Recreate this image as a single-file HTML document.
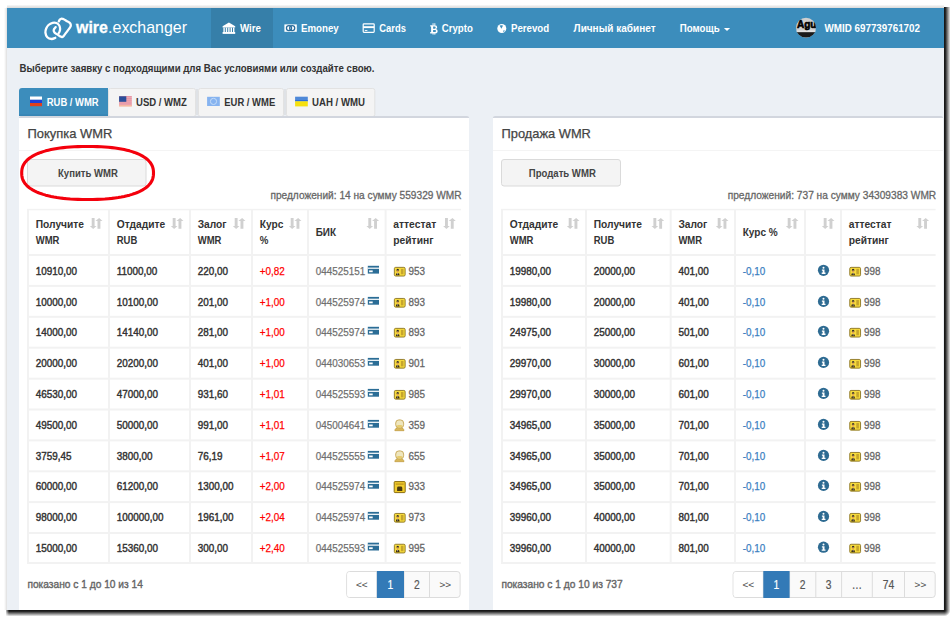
<!DOCTYPE html><html><head><meta charset="utf-8"><style>html,body{margin:0;padding:0;background:#fff;width:951px;height:617px;overflow:hidden}svg{display:block;font-family:"Liberation Sans",sans-serif}</style></head><body>
<svg width="951" height="617" viewBox="0 0 951 617">
<defs>
<linearGradient id="shR" x1="0" x2="1" y1="0" y2="0"><stop offset="0" stop-color="#111" stop-opacity="1"/><stop offset="0.35" stop-color="#222" stop-opacity=".85"/><stop offset="1" stop-color="#000" stop-opacity="0"/></linearGradient>
<linearGradient id="shB" x1="0" x2="0" y1="0" y2="1"><stop offset="0" stop-color="#111" stop-opacity="1"/><stop offset="0.35" stop-color="#222" stop-opacity=".85"/><stop offset="1" stop-color="#000" stop-opacity="0"/></linearGradient>
</defs>
<rect x="0" y="0" width="951" height="617" fill="#ffffff" />
<linearGradient id="gR" x1="0" x2="1" y1="0" y2="0"><stop offset="0" stop-color="#000" stop-opacity=".92"/><stop offset=".18" stop-color="#000" stop-opacity=".9"/><stop offset=".55" stop-color="#000" stop-opacity=".5"/><stop offset="1" stop-color="#000" stop-opacity="0"/></linearGradient>
<linearGradient id="gB" x1="0" x2="0" y1="0" y2="1"><stop offset="0" stop-color="#000" stop-opacity=".92"/><stop offset=".18" stop-color="#000" stop-opacity=".9"/><stop offset=".55" stop-color="#000" stop-opacity=".5"/><stop offset="1" stop-color="#000" stop-opacity="0"/></linearGradient>
<radialGradient id="gC" cx="944" cy="610" r="6.5" gradientUnits="userSpaceOnUse"><stop offset="0" stop-color="#000" stop-opacity=".92"/><stop offset=".18" stop-color="#000" stop-opacity=".9"/><stop offset=".55" stop-color="#000" stop-opacity=".5"/><stop offset="1" stop-color="#000" stop-opacity="0"/></radialGradient>
<linearGradient id="gL" x1="0" x2="1" y1="0" y2="0"><stop offset="0" stop-color="#fff" stop-opacity="1"/><stop offset="1" stop-color="#fff" stop-opacity="0"/></linearGradient>
<rect x="944" y="7" width="6.5" height="603" fill="url(#gR)" />
<rect x="6" y="610" width="938" height="6.5" fill="url(#gB)" />
<rect x="944" y="610" width="6.5" height="6.5" fill="url(#gC)" />
<rect x="5" y="609" width="4" height="8" fill="url(#gL)" />
<linearGradient id="gT" x1="0" x2="0" y1="0" y2="1"><stop offset="0" stop-color="#000" stop-opacity="0"/><stop offset="1" stop-color="#000" stop-opacity=".16"/></linearGradient>
<linearGradient id="gLf" x1="0" x2="1" y1="0" y2="0"><stop offset="0" stop-color="#000" stop-opacity="0"/><stop offset="1" stop-color="#000" stop-opacity=".12"/></linearGradient>
<rect x="7" y="4.5" width="937" height="3.5" fill="url(#gT)" />
<rect x="4" y="8" width="3" height="602" fill="url(#gLf)" />
<rect x="6.5" y="7.5" width="937.5" height="602.5" fill="#e2e2e2" />
<rect x="7" y="8" width="937" height="602" fill="#ecf0f5" />
<rect x="7" y="8" width="937" height="40" fill="#3c8dbc" />
<rect x="211" y="8" width="62" height="40" fill="#367fa9" />
<text x="76.05" y="32.50" font-size="17" font-weight="bold" fill="#fff" stroke="#fff" stroke-width="0.3" textLength="31.85" lengthAdjust="spacingAndGlyphs">wire</text>
<text x="108.10" y="32.50" font-size="17" fill="#fff" textLength="78.90" lengthAdjust="spacingAndGlyphs">.exchanger</text>
<text x="240.00" y="32.00" font-size="11.5" font-weight="bold" fill="#fff" textLength="21.00" lengthAdjust="spacingAndGlyphs">Wire</text>
<text x="301.00" y="32.00" font-size="11.5" font-weight="bold" fill="#fff" textLength="37.70" lengthAdjust="spacingAndGlyphs">Emoney</text>
<text x="379.30" y="32.00" font-size="11.5" font-weight="bold" fill="#fff" textLength="26.60" lengthAdjust="spacingAndGlyphs">Cards</text>
<text x="441.80" y="32.00" font-size="11.5" font-weight="bold" fill="#fff" textLength="31.00" lengthAdjust="spacingAndGlyphs">Crypto</text>
<text x="511.00" y="32.00" font-size="11.5" font-weight="bold" fill="#fff" textLength="38.10" lengthAdjust="spacingAndGlyphs">Perevod</text>
<text x="573.60" y="32.00" font-size="11.5" font-weight="bold" fill="#fff" textLength="82.00" lengthAdjust="spacingAndGlyphs">Личный кабинет</text>
<text x="679.80" y="32.00" font-size="11.5" font-weight="bold" fill="#fff" textLength="39.80" lengthAdjust="spacingAndGlyphs">Помощь</text>
<text x="824.60" y="32.00" font-size="11.5" font-weight="bold" fill="#fff" textLength="95.40" lengthAdjust="spacingAndGlyphs">WMID 697739761702</text>
<text x="19.50" y="72.20" font-size="11.2" font-weight="bold" fill="#333" textLength="355.00" lengthAdjust="spacingAndGlyphs">Выберите заявку с подходящими для Вас условиями или создайте свою.</text>
<path d="M19 91 a3 3 0 0 1 3 -3 H108 V116 H19 Z" fill="#3c8dbc"/>
<rect x="19" y="114.6" width="89" height="1" fill="#3580b0" />
<rect x="108.5" y="88.5" width="87.0" height="28" rx="2" fill="#f4f4f4" stroke="#e2e2e2" stroke-width="1"/>
<rect x="198.5" y="88.5" width="85.0" height="28" rx="2" fill="#f4f4f4" stroke="#e2e2e2" stroke-width="1"/>
<rect x="286.5" y="88.5" width="88.3" height="28" rx="2" fill="#f4f4f4" stroke="#e2e2e2" stroke-width="1"/>
<rect x="196" y="89" width="2" height="26" fill="#dfe2e6"/>
<rect x="284" y="89" width="2" height="26" fill="#dfe2e6"/>
<text x="46.80" y="105.70" font-size="11" font-weight="bold" fill="#fff" textLength="51.90" lengthAdjust="spacingAndGlyphs">RUB / WMR</text>
<text x="136.00" y="105.70" font-size="11" font-weight="bold" fill="#333" textLength="50.90" lengthAdjust="spacingAndGlyphs">USD / WMZ</text>
<text x="224.30" y="105.70" font-size="11" font-weight="bold" fill="#333" textLength="50.90" lengthAdjust="spacingAndGlyphs">EUR / WME</text>
<text x="312.00" y="105.70" font-size="11" font-weight="bold" fill="#333" textLength="53.00" lengthAdjust="spacingAndGlyphs">UAH / WMU</text>
<rect x="19" y="116" width="450" height="3" fill="#d2d6de" rx="2"/>
<rect x="19" y="118" width="450" height="492" fill="#ffffff" />
<rect x="19" y="150" width="450" height="1" fill="#f4f4f4" />
<text x="27.50" y="137.80" font-size="13" fill="#444" stroke="#444" stroke-width="0.25" textLength="84.80" lengthAdjust="spacingAndGlyphs">Покупка WMR</text>
<rect x="27.5" y="159.5" width="118.5" height="26.5" rx="2.5" fill="#f4f4f4" stroke="#dadada" stroke-width="1"/>
<text x="58.00" y="176.70" font-size="11.3" font-weight="bold" fill="#444" textLength="59.80" lengthAdjust="spacingAndGlyphs">Купить WMR</text>
<text x="270.40" y="199.00" font-size="11.3" fill="#666" stroke="#666" stroke-width="0.3" textLength="191.20" lengthAdjust="spacingAndGlyphs">предложений: 14 на сумму 559329 WMR</text>
<rect x="27" y="208.8" width="434" height="1.5" fill="#f2f2f2"/>
<rect x="27" y="254.00" width="434" height="2" fill="#f2f2f2"/>
<rect x="27" y="284.90" width="434" height="2" fill="#f2f2f2"/>
<rect x="27" y="315.80" width="434" height="2" fill="#f2f2f2"/>
<rect x="27" y="346.70" width="434" height="2" fill="#f2f2f2"/>
<rect x="27" y="377.70" width="434" height="2" fill="#f2f2f2"/>
<rect x="27" y="408.50" width="434" height="2" fill="#f2f2f2"/>
<rect x="27" y="439.40" width="434" height="2" fill="#f2f2f2"/>
<rect x="27" y="470.30" width="434" height="2" fill="#f2f2f2"/>
<rect x="27" y="501.10" width="434" height="2" fill="#f2f2f2"/>
<rect x="27" y="532.00" width="434" height="2" fill="#f2f2f2"/>
<rect x="27" y="562.00" width="434" height="2" fill="#f2f2f2"/>
<rect x="27.00" y="209" width="2" height="355.00" fill="#f2f2f2"/>
<rect x="108.00" y="209" width="2" height="355.00" fill="#f2f2f2"/>
<rect x="189.00" y="209" width="2" height="355.00" fill="#f2f2f2"/>
<rect x="251.00" y="209" width="2" height="355.00" fill="#f2f2f2"/>
<rect x="307.00" y="209" width="2" height="355.00" fill="#f2f2f2"/>
<rect x="384.60" y="209" width="2" height="355.00" fill="#f2f2f2"/>
<text x="35.70" y="227.80" font-size="11.3" font-weight="bold" fill="#333" textLength="48.34" lengthAdjust="spacingAndGlyphs">Получите</text>
<text x="35.70" y="244.00" font-size="11.3" font-weight="bold" fill="#333" textLength="23.72" lengthAdjust="spacingAndGlyphs">WMR</text>
<path d="M91.70 218 h2.9 v8.1 h1.9 l-3.35 3 l-3.35 -3 h1.9 z" fill="#d0d0d0"/>
<path d="M99.15 217.9 l3.35 3.1 h-2.1 v7.8 h-2.9 v-7.8 h-2.1 z" fill="#d0d0d0"/>
<text x="116.70" y="227.80" font-size="11.3" font-weight="bold" fill="#333" textLength="48.49" lengthAdjust="spacingAndGlyphs">Отдадите</text>
<text x="116.70" y="244.00" font-size="11.3" font-weight="bold" fill="#333" textLength="20.56" lengthAdjust="spacingAndGlyphs">RUB</text>
<path d="M172.70 218 h2.9 v8.1 h1.9 l-3.35 3 l-3.35 -3 h1.9 z" fill="#d0d0d0"/>
<path d="M180.15 217.9 l3.35 3.1 h-2.1 v7.8 h-2.9 v-7.8 h-2.1 z" fill="#d0d0d0"/>
<text x="197.70" y="227.80" font-size="11.3" font-weight="bold" fill="#333" textLength="28.91" lengthAdjust="spacingAndGlyphs">Залог</text>
<text x="197.70" y="244.00" font-size="11.3" font-weight="bold" fill="#333" textLength="23.72" lengthAdjust="spacingAndGlyphs">WMR</text>
<path d="M234.70 218 h2.9 v8.1 h1.9 l-3.35 3 l-3.35 -3 h1.9 z" fill="#d0d0d0"/>
<path d="M242.15 217.9 l3.35 3.1 h-2.1 v7.8 h-2.9 v-7.8 h-2.1 z" fill="#d0d0d0"/>
<text x="259.70" y="227.80" font-size="11.3" font-weight="bold" fill="#333" textLength="23.65" lengthAdjust="spacingAndGlyphs">Курс</text>
<text x="259.70" y="244.00" font-size="11.3" font-weight="bold" fill="#333" textLength="8.64" lengthAdjust="spacingAndGlyphs">%</text>
<path d="M290.70 218 h2.9 v8.1 h1.9 l-3.35 3 l-3.35 -3 h1.9 z" fill="#d0d0d0"/>
<path d="M298.15 217.9 l3.35 3.1 h-2.1 v7.8 h-2.9 v-7.8 h-2.1 z" fill="#d0d0d0"/>
<text x="315.70" y="235.90" font-size="11.3" font-weight="bold" fill="#333" textLength="20.36" lengthAdjust="spacingAndGlyphs">БИК</text>
<path d="M368.30 218 h2.9 v8.1 h1.9 l-3.35 3 l-3.35 -3 h1.9 z" fill="#d0d0d0"/>
<path d="M375.75 217.9 l3.35 3.1 h-2.1 v7.8 h-2.9 v-7.8 h-2.1 z" fill="#d0d0d0"/>
<text x="393.30" y="227.80" font-size="11.3" font-weight="bold" fill="#333" textLength="42.88" lengthAdjust="spacingAndGlyphs">аттестат</text>
<text x="393.30" y="244.00" font-size="11.3" font-weight="bold" fill="#333" textLength="40.17" lengthAdjust="spacingAndGlyphs">рейтинг</text>
<path d="M445.00 218 h2.9 v8.1 h1.9 l-3.35 3 l-3.35 -3 h1.9 z" fill="#d0d0d0"/>
<path d="M452.45 217.9 l3.35 3.1 h-2.1 v7.8 h-2.9 v-7.8 h-2.1 z" fill="#d0d0d0"/>
<text x="35.80" y="274.80" font-size="11.5" fill="#333" stroke="#333" stroke-width="0.45" textLength="41.25" lengthAdjust="spacingAndGlyphs">10910,00</text>
<text x="116.80" y="274.80" font-size="11.5" fill="#333" stroke="#333" stroke-width="0.45" textLength="40.52" lengthAdjust="spacingAndGlyphs">11000,00</text>
<text x="197.80" y="274.80" font-size="11.5" fill="#333" stroke="#333" stroke-width="0.45" textLength="30.25" lengthAdjust="spacingAndGlyphs">220,00</text>
<text x="259.80" y="274.80" font-size="11.5" fill="#ff0000" stroke="#ff0000" stroke-width="0.25" textLength="25.02" lengthAdjust="spacingAndGlyphs">+0,82</text>
<text x="315.80" y="274.80" font-size="11.5" fill="#6f6f6f" stroke="#6f6f6f" stroke-width="0.25" textLength="49.50" lengthAdjust="spacingAndGlyphs">044525151</text>
<rect x="367.8" y="265.8" width="11.2" height="7.8" fill="#2b6d96"/>
<rect x="367.8" y="267.6" width="11.2" height="1.2" fill="#fff"/>
<rect x="369.1" y="270.4" width="3.6" height="1.8" fill="#fff"/>
<rect x="394.35" y="267.35" width="10.8" height="8.7" rx="1.3" fill="#f6da3c" stroke="#8a7424" stroke-width="0.9"/>
<path d="M395.80 275.30 q0 -2.4 1.9 -2.4 q1.9 0 1.9 2.4 z" fill="#3a2c10"/>
<path d="M397.20 273.30 h1 l-0.5 1.6 z" fill="#fff"/>
<ellipse cx="397.70" cy="271.20" rx="1.1" ry="1.4" fill="#e0a050"/>
<path d="M396.40 270.70 q0 -1.9 1.3 -1.9 q1.4 0 1.4 1.9 q-1.3 -0.8 -2.7 0 z" fill="#2a2a2a"/>
<rect x="400.90" y="268.90" width="2.6" height="5.4" fill="#c6a52c"/>
<text x="408.50" y="274.80" font-size="11.5" fill="#666" stroke="#666" stroke-width="0.3" textLength="16.50" lengthAdjust="spacingAndGlyphs">953</text>
<text x="35.80" y="305.90" font-size="11.5" fill="#333" stroke="#333" stroke-width="0.45" textLength="41.25" lengthAdjust="spacingAndGlyphs">10000,00</text>
<text x="116.80" y="305.90" font-size="11.5" fill="#333" stroke="#333" stroke-width="0.45" textLength="41.25" lengthAdjust="spacingAndGlyphs">10100,00</text>
<text x="197.80" y="305.90" font-size="11.5" fill="#333" stroke="#333" stroke-width="0.45" textLength="30.25" lengthAdjust="spacingAndGlyphs">201,00</text>
<text x="259.80" y="305.90" font-size="11.5" fill="#ff0000" stroke="#ff0000" stroke-width="0.25" textLength="25.02" lengthAdjust="spacingAndGlyphs">+1,00</text>
<text x="315.80" y="305.90" font-size="11.5" fill="#6f6f6f" stroke="#6f6f6f" stroke-width="0.25" textLength="49.50" lengthAdjust="spacingAndGlyphs">044525974</text>
<rect x="367.8" y="296.9" width="11.2" height="7.8" fill="#2b6d96"/>
<rect x="367.8" y="298.7" width="11.2" height="1.2" fill="#fff"/>
<rect x="369.1" y="301.5" width="3.6" height="1.8" fill="#fff"/>
<rect x="394.35" y="298.45" width="10.8" height="8.7" rx="1.3" fill="#f6da3c" stroke="#8a7424" stroke-width="0.9"/>
<path d="M395.80 306.40 q0 -2.4 1.9 -2.4 q1.9 0 1.9 2.4 z" fill="#3a2c10"/>
<path d="M397.20 304.40 h1 l-0.5 1.6 z" fill="#fff"/>
<ellipse cx="397.70" cy="302.30" rx="1.1" ry="1.4" fill="#e0a050"/>
<path d="M396.40 301.80 q0 -1.9 1.3 -1.9 q1.4 0 1.4 1.9 q-1.3 -0.8 -2.7 0 z" fill="#2a2a2a"/>
<rect x="400.90" y="300.00" width="2.6" height="5.4" fill="#c6a52c"/>
<text x="408.50" y="305.90" font-size="11.5" fill="#666" stroke="#666" stroke-width="0.3" textLength="16.50" lengthAdjust="spacingAndGlyphs">893</text>
<text x="35.80" y="335.80" font-size="11.5" fill="#333" stroke="#333" stroke-width="0.45" textLength="41.25" lengthAdjust="spacingAndGlyphs">14000,00</text>
<text x="116.80" y="335.80" font-size="11.5" fill="#333" stroke="#333" stroke-width="0.45" textLength="41.25" lengthAdjust="spacingAndGlyphs">14140,00</text>
<text x="197.80" y="335.80" font-size="11.5" fill="#333" stroke="#333" stroke-width="0.45" textLength="30.25" lengthAdjust="spacingAndGlyphs">281,00</text>
<text x="259.80" y="335.80" font-size="11.5" fill="#ff0000" stroke="#ff0000" stroke-width="0.25" textLength="25.02" lengthAdjust="spacingAndGlyphs">+1,00</text>
<text x="315.80" y="335.80" font-size="11.5" fill="#6f6f6f" stroke="#6f6f6f" stroke-width="0.25" textLength="49.50" lengthAdjust="spacingAndGlyphs">044525974</text>
<rect x="367.8" y="326.8" width="11.2" height="7.8" fill="#2b6d96"/>
<rect x="367.8" y="328.6" width="11.2" height="1.2" fill="#fff"/>
<rect x="369.1" y="331.4" width="3.6" height="1.8" fill="#fff"/>
<rect x="394.35" y="328.35" width="10.8" height="8.7" rx="1.3" fill="#f6da3c" stroke="#8a7424" stroke-width="0.9"/>
<path d="M395.80 336.30 q0 -2.4 1.9 -2.4 q1.9 0 1.9 2.4 z" fill="#3a2c10"/>
<path d="M397.20 334.30 h1 l-0.5 1.6 z" fill="#fff"/>
<ellipse cx="397.70" cy="332.20" rx="1.1" ry="1.4" fill="#e0a050"/>
<path d="M396.40 331.70 q0 -1.9 1.3 -1.9 q1.4 0 1.4 1.9 q-1.3 -0.8 -2.7 0 z" fill="#2a2a2a"/>
<rect x="400.90" y="329.90" width="2.6" height="5.4" fill="#c6a52c"/>
<text x="408.50" y="335.80" font-size="11.5" fill="#666" stroke="#666" stroke-width="0.3" textLength="16.50" lengthAdjust="spacingAndGlyphs">893</text>
<text x="35.80" y="366.90" font-size="11.5" fill="#333" stroke="#333" stroke-width="0.45" textLength="41.25" lengthAdjust="spacingAndGlyphs">20000,00</text>
<text x="116.80" y="366.90" font-size="11.5" fill="#333" stroke="#333" stroke-width="0.45" textLength="41.25" lengthAdjust="spacingAndGlyphs">20200,00</text>
<text x="197.80" y="366.90" font-size="11.5" fill="#333" stroke="#333" stroke-width="0.45" textLength="30.25" lengthAdjust="spacingAndGlyphs">401,00</text>
<text x="259.80" y="366.90" font-size="11.5" fill="#ff0000" stroke="#ff0000" stroke-width="0.25" textLength="25.02" lengthAdjust="spacingAndGlyphs">+1,00</text>
<text x="315.80" y="366.90" font-size="11.5" fill="#6f6f6f" stroke="#6f6f6f" stroke-width="0.25" textLength="49.50" lengthAdjust="spacingAndGlyphs">044030653</text>
<rect x="367.8" y="357.9" width="11.2" height="7.8" fill="#2b6d96"/>
<rect x="367.8" y="359.7" width="11.2" height="1.2" fill="#fff"/>
<rect x="369.1" y="362.5" width="3.6" height="1.8" fill="#fff"/>
<rect x="394.35" y="359.45" width="10.8" height="8.7" rx="1.3" fill="#f6da3c" stroke="#8a7424" stroke-width="0.9"/>
<path d="M395.80 367.40 q0 -2.4 1.9 -2.4 q1.9 0 1.9 2.4 z" fill="#3a2c10"/>
<path d="M397.20 365.40 h1 l-0.5 1.6 z" fill="#fff"/>
<ellipse cx="397.70" cy="363.30" rx="1.1" ry="1.4" fill="#e0a050"/>
<path d="M396.40 362.80 q0 -1.9 1.3 -1.9 q1.4 0 1.4 1.9 q-1.3 -0.8 -2.7 0 z" fill="#2a2a2a"/>
<rect x="400.90" y="361.00" width="2.6" height="5.4" fill="#c6a52c"/>
<text x="408.50" y="366.90" font-size="11.5" fill="#666" stroke="#666" stroke-width="0.3" textLength="16.50" lengthAdjust="spacingAndGlyphs">901</text>
<text x="35.80" y="397.90" font-size="11.5" fill="#333" stroke="#333" stroke-width="0.45" textLength="41.25" lengthAdjust="spacingAndGlyphs">46530,00</text>
<text x="116.80" y="397.90" font-size="11.5" fill="#333" stroke="#333" stroke-width="0.45" textLength="41.25" lengthAdjust="spacingAndGlyphs">47000,00</text>
<text x="197.80" y="397.90" font-size="11.5" fill="#333" stroke="#333" stroke-width="0.45" textLength="30.25" lengthAdjust="spacingAndGlyphs">931,60</text>
<text x="259.80" y="397.90" font-size="11.5" fill="#ff0000" stroke="#ff0000" stroke-width="0.25" textLength="25.02" lengthAdjust="spacingAndGlyphs">+1,01</text>
<text x="315.80" y="397.90" font-size="11.5" fill="#6f6f6f" stroke="#6f6f6f" stroke-width="0.25" textLength="49.50" lengthAdjust="spacingAndGlyphs">044525593</text>
<rect x="367.8" y="388.9" width="11.2" height="7.8" fill="#2b6d96"/>
<rect x="367.8" y="390.7" width="11.2" height="1.2" fill="#fff"/>
<rect x="369.1" y="393.5" width="3.6" height="1.8" fill="#fff"/>
<rect x="394.35" y="390.45" width="10.8" height="8.7" rx="1.3" fill="#f6da3c" stroke="#8a7424" stroke-width="0.9"/>
<path d="M395.80 398.40 q0 -2.4 1.9 -2.4 q1.9 0 1.9 2.4 z" fill="#3a2c10"/>
<path d="M397.20 396.40 h1 l-0.5 1.6 z" fill="#fff"/>
<ellipse cx="397.70" cy="394.30" rx="1.1" ry="1.4" fill="#e0a050"/>
<path d="M396.40 393.80 q0 -1.9 1.3 -1.9 q1.4 0 1.4 1.9 q-1.3 -0.8 -2.7 0 z" fill="#2a2a2a"/>
<rect x="400.90" y="392.00" width="2.6" height="5.4" fill="#c6a52c"/>
<text x="408.50" y="397.90" font-size="11.5" fill="#666" stroke="#666" stroke-width="0.3" textLength="16.50" lengthAdjust="spacingAndGlyphs">985</text>
<text x="35.80" y="428.90" font-size="11.5" fill="#333" stroke="#333" stroke-width="0.45" textLength="41.25" lengthAdjust="spacingAndGlyphs">49500,00</text>
<text x="116.80" y="428.90" font-size="11.5" fill="#333" stroke="#333" stroke-width="0.45" textLength="41.25" lengthAdjust="spacingAndGlyphs">50000,00</text>
<text x="197.80" y="428.90" font-size="11.5" fill="#333" stroke="#333" stroke-width="0.45" textLength="30.25" lengthAdjust="spacingAndGlyphs">991,00</text>
<text x="259.80" y="428.90" font-size="11.5" fill="#ff0000" stroke="#ff0000" stroke-width="0.25" textLength="25.02" lengthAdjust="spacingAndGlyphs">+1,01</text>
<text x="315.80" y="428.90" font-size="11.5" fill="#6f6f6f" stroke="#6f6f6f" stroke-width="0.25" textLength="49.50" lengthAdjust="spacingAndGlyphs">045004641</text>
<rect x="367.8" y="419.9" width="11.2" height="7.8" fill="#2b6d96"/>
<rect x="367.8" y="421.7" width="11.2" height="1.2" fill="#fff"/>
<rect x="369.1" y="424.5" width="3.6" height="1.8" fill="#fff"/>
<path d="M394.80 430.70 q0.2 -3.2 4.6 -3.4 q4.4 0.2 4.6 3.4 z" fill="#d9b85a" stroke="#b89030" stroke-width="0.6"/>
<rect x="395.70" y="419.90" width="7.9" height="8.0" rx="3.2" fill="#efe6bd" stroke="#c4a450" stroke-width="0.9"/>
<rect x="397.00" y="424.90" width="5.2" height="2.6" rx="1.2" fill="#e6cc70"/>
<text x="408.50" y="428.90" font-size="11.5" fill="#666" stroke="#666" stroke-width="0.3" textLength="16.50" lengthAdjust="spacingAndGlyphs">359</text>
<text x="35.80" y="459.90" font-size="11.5" fill="#333" stroke="#333" stroke-width="0.45" textLength="35.75" lengthAdjust="spacingAndGlyphs">3759,45</text>
<text x="116.80" y="459.90" font-size="11.5" fill="#333" stroke="#333" stroke-width="0.45" textLength="35.75" lengthAdjust="spacingAndGlyphs">3800,00</text>
<text x="197.80" y="459.90" font-size="11.5" fill="#333" stroke="#333" stroke-width="0.45" textLength="24.75" lengthAdjust="spacingAndGlyphs">76,19</text>
<text x="259.80" y="459.90" font-size="11.5" fill="#ff0000" stroke="#ff0000" stroke-width="0.25" textLength="25.02" lengthAdjust="spacingAndGlyphs">+1,07</text>
<text x="315.80" y="459.90" font-size="11.5" fill="#6f6f6f" stroke="#6f6f6f" stroke-width="0.25" textLength="49.50" lengthAdjust="spacingAndGlyphs">044525555</text>
<rect x="367.8" y="450.9" width="11.2" height="7.8" fill="#2b6d96"/>
<rect x="367.8" y="452.7" width="11.2" height="1.2" fill="#fff"/>
<rect x="369.1" y="455.5" width="3.6" height="1.8" fill="#fff"/>
<path d="M394.80 461.70 q0.2 -3.2 4.6 -3.4 q4.4 0.2 4.6 3.4 z" fill="#d9b85a" stroke="#b89030" stroke-width="0.6"/>
<rect x="395.70" y="450.90" width="7.9" height="8.0" rx="3.2" fill="#efe6bd" stroke="#c4a450" stroke-width="0.9"/>
<rect x="397.00" y="455.90" width="5.2" height="2.6" rx="1.2" fill="#e6cc70"/>
<text x="408.50" y="459.90" font-size="11.5" fill="#666" stroke="#666" stroke-width="0.3" textLength="16.50" lengthAdjust="spacingAndGlyphs">655</text>
<text x="35.80" y="489.90" font-size="11.5" fill="#333" stroke="#333" stroke-width="0.45" textLength="41.25" lengthAdjust="spacingAndGlyphs">60000,00</text>
<text x="116.80" y="489.90" font-size="11.5" fill="#333" stroke="#333" stroke-width="0.45" textLength="41.25" lengthAdjust="spacingAndGlyphs">61200,00</text>
<text x="197.80" y="489.90" font-size="11.5" fill="#333" stroke="#333" stroke-width="0.45" textLength="35.75" lengthAdjust="spacingAndGlyphs">1300,00</text>
<text x="259.80" y="489.90" font-size="11.5" fill="#ff0000" stroke="#ff0000" stroke-width="0.25" textLength="25.02" lengthAdjust="spacingAndGlyphs">+2,00</text>
<text x="315.80" y="489.90" font-size="11.5" fill="#6f6f6f" stroke="#6f6f6f" stroke-width="0.25" textLength="49.50" lengthAdjust="spacingAndGlyphs">044525974</text>
<rect x="367.8" y="480.9" width="11.2" height="7.8" fill="#2b6d96"/>
<rect x="367.8" y="482.7" width="11.2" height="1.2" fill="#fff"/>
<rect x="369.1" y="485.5" width="3.6" height="1.8" fill="#fff"/>
<rect x="394.20" y="481.60" width="11" height="11" rx="0.8" fill="#f1cc2c" stroke="#8a6d10" stroke-width="1"/>
<rect x="395.70" y="483.30" width="8" height="1.6" fill="#c9a020"/>
<path d="M397.10 490.90 v-3 q0 -1.4 1.4 -1.4 h2.4 q1.4 0 1.4 1.4 v3 z" fill="#4a3a10"/>
<text x="408.50" y="489.90" font-size="11.5" fill="#666" stroke="#666" stroke-width="0.3" textLength="16.50" lengthAdjust="spacingAndGlyphs">933</text>
<text x="35.80" y="520.90" font-size="11.5" fill="#333" stroke="#333" stroke-width="0.45" textLength="41.25" lengthAdjust="spacingAndGlyphs">98000,00</text>
<text x="116.80" y="520.90" font-size="11.5" fill="#333" stroke="#333" stroke-width="0.45" textLength="46.75" lengthAdjust="spacingAndGlyphs">100000,00</text>
<text x="197.80" y="520.90" font-size="11.5" fill="#333" stroke="#333" stroke-width="0.45" textLength="35.75" lengthAdjust="spacingAndGlyphs">1961,00</text>
<text x="259.80" y="520.90" font-size="11.5" fill="#ff0000" stroke="#ff0000" stroke-width="0.25" textLength="25.02" lengthAdjust="spacingAndGlyphs">+2,04</text>
<text x="315.80" y="520.90" font-size="11.5" fill="#6f6f6f" stroke="#6f6f6f" stroke-width="0.25" textLength="49.50" lengthAdjust="spacingAndGlyphs">044525974</text>
<rect x="367.8" y="511.9" width="11.2" height="7.8" fill="#2b6d96"/>
<rect x="367.8" y="513.7" width="11.2" height="1.2" fill="#fff"/>
<rect x="369.1" y="516.5" width="3.6" height="1.8" fill="#fff"/>
<rect x="394.35" y="513.45" width="10.8" height="8.7" rx="1.3" fill="#f6da3c" stroke="#8a7424" stroke-width="0.9"/>
<path d="M395.80 521.40 q0 -2.4 1.9 -2.4 q1.9 0 1.9 2.4 z" fill="#3a2c10"/>
<path d="M397.20 519.40 h1 l-0.5 1.6 z" fill="#fff"/>
<ellipse cx="397.70" cy="517.30" rx="1.1" ry="1.4" fill="#e0a050"/>
<path d="M396.40 516.80 q0 -1.9 1.3 -1.9 q1.4 0 1.4 1.9 q-1.3 -0.8 -2.7 0 z" fill="#2a2a2a"/>
<rect x="400.90" y="515.00" width="2.6" height="5.4" fill="#c6a52c"/>
<text x="408.50" y="520.90" font-size="11.5" fill="#666" stroke="#666" stroke-width="0.3" textLength="16.50" lengthAdjust="spacingAndGlyphs">973</text>
<text x="35.80" y="551.70" font-size="11.5" fill="#333" stroke="#333" stroke-width="0.45" textLength="41.25" lengthAdjust="spacingAndGlyphs">15000,00</text>
<text x="116.80" y="551.70" font-size="11.5" fill="#333" stroke="#333" stroke-width="0.45" textLength="41.25" lengthAdjust="spacingAndGlyphs">15360,00</text>
<text x="197.80" y="551.70" font-size="11.5" fill="#333" stroke="#333" stroke-width="0.45" textLength="30.25" lengthAdjust="spacingAndGlyphs">300,00</text>
<text x="259.80" y="551.70" font-size="11.5" fill="#ff0000" stroke="#ff0000" stroke-width="0.25" textLength="25.02" lengthAdjust="spacingAndGlyphs">+2,40</text>
<text x="315.80" y="551.70" font-size="11.5" fill="#6f6f6f" stroke="#6f6f6f" stroke-width="0.25" textLength="49.50" lengthAdjust="spacingAndGlyphs">044525593</text>
<rect x="367.8" y="542.7" width="11.2" height="7.8" fill="#2b6d96"/>
<rect x="367.8" y="544.5" width="11.2" height="1.2" fill="#fff"/>
<rect x="369.1" y="547.3" width="3.6" height="1.8" fill="#fff"/>
<rect x="394.35" y="544.25" width="10.8" height="8.7" rx="1.3" fill="#f6da3c" stroke="#8a7424" stroke-width="0.9"/>
<path d="M395.80 552.20 q0 -2.4 1.9 -2.4 q1.9 0 1.9 2.4 z" fill="#3a2c10"/>
<path d="M397.20 550.20 h1 l-0.5 1.6 z" fill="#fff"/>
<ellipse cx="397.70" cy="548.10" rx="1.1" ry="1.4" fill="#e0a050"/>
<path d="M396.40 547.60 q0 -1.9 1.3 -1.9 q1.4 0 1.4 1.9 q-1.3 -0.8 -2.7 0 z" fill="#2a2a2a"/>
<rect x="400.90" y="545.80" width="2.6" height="5.4" fill="#c6a52c"/>
<text x="408.50" y="551.70" font-size="11.5" fill="#666" stroke="#666" stroke-width="0.3" textLength="16.50" lengthAdjust="spacingAndGlyphs">995</text>
<rect x="346.7" y="571.5" width="113.40000000000003" height="26" rx="3" fill="#fafafa" stroke="#dcdcdc" stroke-width="1"/>
<path d="M376.9 572 H349.7 a2.5 2.5 0 0 0 -2.5 2.5 V594.5 a2.5 2.5 0 0 0 2.5 2.5 H376.9 z" fill="#ffffff"/>
<rect x="376.40" y="571" width="1" height="27" fill="#dcdcdc"/>
<rect x="403.50" y="571" width="1" height="27" fill="#dcdcdc"/>
<rect x="429.00" y="571" width="1" height="27" fill="#dcdcdc"/>
<rect x="376.90" y="571" width="27.10" height="27" fill="#337ab7"/>
<text x="356.05" y="588.20" font-size="9.5" fill="#555" stroke="#555" stroke-width="0.1" textLength="11.60" lengthAdjust="spacingAndGlyphs">&lt;&lt;</text>
<text x="387.58" y="588.50" font-size="12" fill="#fff" stroke="#fff" stroke-width="0.2" textLength="5.74" lengthAdjust="spacingAndGlyphs">1</text>
<text x="413.88" y="588.50" font-size="12" fill="#555" stroke="#555" stroke-width="0.2" textLength="5.74" lengthAdjust="spacingAndGlyphs">2</text>
<text x="439.55" y="588.20" font-size="9.5" fill="#555" stroke="#555" stroke-width="0.1" textLength="11.60" lengthAdjust="spacingAndGlyphs">&gt;&gt;</text>
<text x="27.40" y="588.20" font-size="11.5" fill="#666" stroke="#666" stroke-width="0.4" textLength="115.50" lengthAdjust="spacingAndGlyphs">показано с 1 до 10 из 14</text>
<rect x="493" y="116" width="450" height="3" fill="#d2d6de" rx="2"/>
<rect x="493" y="118" width="450" height="492" fill="#ffffff" />
<rect x="493" y="150" width="450" height="1" fill="#f4f4f4" />
<text x="501.50" y="137.80" font-size="13" fill="#444" stroke="#444" stroke-width="0.25" textLength="89.40" lengthAdjust="spacingAndGlyphs">Продажа WMR</text>
<rect x="501.5" y="159.5" width="119" height="26.5" rx="2.5" fill="#f4f4f4" stroke="#dadada" stroke-width="1"/>
<text x="528.80" y="176.70" font-size="11.3" font-weight="bold" fill="#444" textLength="67.00" lengthAdjust="spacingAndGlyphs">Продать WMR</text>
<text x="727.70" y="199.00" font-size="11.3" fill="#666" stroke="#666" stroke-width="0.3" textLength="208.50" lengthAdjust="spacingAndGlyphs">предложений: 737 на сумму 34309383 WMR</text>
<rect x="501" y="208.8" width="434.6" height="1.5" fill="#f2f2f2"/>
<rect x="501" y="254.00" width="434.6" height="2" fill="#f2f2f2"/>
<rect x="501" y="284.90" width="434.6" height="2" fill="#f2f2f2"/>
<rect x="501" y="315.80" width="434.6" height="2" fill="#f2f2f2"/>
<rect x="501" y="346.70" width="434.6" height="2" fill="#f2f2f2"/>
<rect x="501" y="377.70" width="434.6" height="2" fill="#f2f2f2"/>
<rect x="501" y="408.50" width="434.6" height="2" fill="#f2f2f2"/>
<rect x="501" y="439.40" width="434.6" height="2" fill="#f2f2f2"/>
<rect x="501" y="470.30" width="434.6" height="2" fill="#f2f2f2"/>
<rect x="501" y="501.10" width="434.6" height="2" fill="#f2f2f2"/>
<rect x="501" y="532.00" width="434.6" height="2" fill="#f2f2f2"/>
<rect x="501" y="562.00" width="434.6" height="2" fill="#f2f2f2"/>
<rect x="501.00" y="209" width="2" height="355.00" fill="#f2f2f2"/>
<rect x="585.00" y="209" width="2" height="355.00" fill="#f2f2f2"/>
<rect x="669.70" y="209" width="2" height="355.00" fill="#f2f2f2"/>
<rect x="734.00" y="209" width="2" height="355.00" fill="#f2f2f2"/>
<rect x="804.00" y="209" width="2" height="355.00" fill="#f2f2f2"/>
<rect x="840.00" y="209" width="2" height="355.00" fill="#f2f2f2"/>
<text x="509.70" y="227.80" font-size="11.3" font-weight="bold" fill="#333" textLength="48.49" lengthAdjust="spacingAndGlyphs">Отдадите</text>
<text x="509.70" y="244.00" font-size="11.3" font-weight="bold" fill="#333" textLength="23.72" lengthAdjust="spacingAndGlyphs">WMR</text>
<path d="M568.70 218 h2.9 v8.1 h1.9 l-3.35 3 l-3.35 -3 h1.9 z" fill="#d0d0d0"/>
<path d="M576.15 217.9 l3.35 3.1 h-2.1 v7.8 h-2.9 v-7.8 h-2.1 z" fill="#d0d0d0"/>
<text x="593.70" y="227.80" font-size="11.3" font-weight="bold" fill="#333" textLength="48.34" lengthAdjust="spacingAndGlyphs">Получите</text>
<text x="593.70" y="244.00" font-size="11.3" font-weight="bold" fill="#333" textLength="20.56" lengthAdjust="spacingAndGlyphs">RUB</text>
<path d="M653.40 218 h2.9 v8.1 h1.9 l-3.35 3 l-3.35 -3 h1.9 z" fill="#d0d0d0"/>
<path d="M660.85 217.9 l3.35 3.1 h-2.1 v7.8 h-2.9 v-7.8 h-2.1 z" fill="#d0d0d0"/>
<text x="678.40" y="227.80" font-size="11.3" font-weight="bold" fill="#333" textLength="28.91" lengthAdjust="spacingAndGlyphs">Залог</text>
<text x="678.40" y="244.00" font-size="11.3" font-weight="bold" fill="#333" textLength="23.72" lengthAdjust="spacingAndGlyphs">WMR</text>
<path d="M717.70 218 h2.9 v8.1 h1.9 l-3.35 3 l-3.35 -3 h1.9 z" fill="#d0d0d0"/>
<path d="M725.15 217.9 l3.35 3.1 h-2.1 v7.8 h-2.9 v-7.8 h-2.1 z" fill="#d0d0d0"/>
<text x="742.70" y="235.90" font-size="11.3" font-weight="bold" fill="#333" textLength="35.00" lengthAdjust="spacingAndGlyphs">Курс %</text>
<path d="M787.70 218 h2.9 v8.1 h1.9 l-3.35 3 l-3.35 -3 h1.9 z" fill="#d0d0d0"/>
<path d="M795.15 217.9 l3.35 3.1 h-2.1 v7.8 h-2.9 v-7.8 h-2.1 z" fill="#d0d0d0"/>
<path d="M823.70 218 h2.9 v8.1 h1.9 l-3.35 3 l-3.35 -3 h1.9 z" fill="#d0d0d0"/>
<path d="M831.15 217.9 l3.35 3.1 h-2.1 v7.8 h-2.9 v-7.8 h-2.1 z" fill="#d0d0d0"/>
<text x="848.70" y="227.80" font-size="11.3" font-weight="bold" fill="#333" textLength="42.88" lengthAdjust="spacingAndGlyphs">аттестат</text>
<text x="848.70" y="244.00" font-size="11.3" font-weight="bold" fill="#333" textLength="40.17" lengthAdjust="spacingAndGlyphs">рейтинг</text>
<path d="M918.30 218 h2.9 v8.1 h1.9 l-3.35 3 l-3.35 -3 h1.9 z" fill="#d0d0d0"/>
<path d="M925.75 217.9 l3.35 3.1 h-2.1 v7.8 h-2.9 v-7.8 h-2.1 z" fill="#d0d0d0"/>
<text x="509.80" y="274.80" font-size="11.5" fill="#333" stroke="#333" stroke-width="0.45" textLength="41.25" lengthAdjust="spacingAndGlyphs">19980,00</text>
<text x="593.80" y="274.80" font-size="11.5" fill="#333" stroke="#333" stroke-width="0.45" textLength="41.25" lengthAdjust="spacingAndGlyphs">20000,00</text>
<text x="678.50" y="274.80" font-size="11.5" fill="#333" stroke="#333" stroke-width="0.45" textLength="30.25" lengthAdjust="spacingAndGlyphs">401,00</text>
<text x="742.80" y="274.80" font-size="11.5" fill="#3a7ebf" stroke="#3a7ebf" stroke-width="0.25" textLength="22.54" lengthAdjust="spacingAndGlyphs">-0,10</text>
<circle cx="823.5" cy="270.3" r="5.6" fill="#2e6b92"/>
<circle cx="823.5" cy="267.7" r="1" fill="#fff"/>
<path d="M821.9 269.4 h2.6 v3.2 h1 v1.3 h-3.8 v-1.3 h1 v-1.9 h-0.8 z" fill="#fff"/>
<rect x="849.75" y="267.35" width="10.8" height="8.7" rx="1.3" fill="#f6da3c" stroke="#8a7424" stroke-width="0.9"/>
<path d="M851.20 275.30 q0 -2.4 1.9 -2.4 q1.9 0 1.9 2.4 z" fill="#3a2c10"/>
<path d="M852.60 273.30 h1 l-0.5 1.6 z" fill="#fff"/>
<ellipse cx="853.10" cy="271.20" rx="1.1" ry="1.4" fill="#e0a050"/>
<path d="M851.80 270.70 q0 -1.9 1.3 -1.9 q1.4 0 1.4 1.9 q-1.3 -0.8 -2.7 0 z" fill="#2a2a2a"/>
<rect x="856.30" y="268.90" width="2.6" height="5.4" fill="#c6a52c"/>
<text x="863.90" y="274.80" font-size="11.5" fill="#666" stroke="#666" stroke-width="0.3" textLength="16.50" lengthAdjust="spacingAndGlyphs">998</text>
<text x="509.80" y="305.90" font-size="11.5" fill="#333" stroke="#333" stroke-width="0.45" textLength="41.25" lengthAdjust="spacingAndGlyphs">19980,00</text>
<text x="593.80" y="305.90" font-size="11.5" fill="#333" stroke="#333" stroke-width="0.45" textLength="41.25" lengthAdjust="spacingAndGlyphs">20000,00</text>
<text x="678.50" y="305.90" font-size="11.5" fill="#333" stroke="#333" stroke-width="0.45" textLength="30.25" lengthAdjust="spacingAndGlyphs">401,00</text>
<text x="742.80" y="305.90" font-size="11.5" fill="#3a7ebf" stroke="#3a7ebf" stroke-width="0.25" textLength="22.54" lengthAdjust="spacingAndGlyphs">-0,10</text>
<circle cx="823.5" cy="301.4" r="5.6" fill="#2e6b92"/>
<circle cx="823.5" cy="298.8" r="1" fill="#fff"/>
<path d="M821.9 300.5 h2.6 v3.2 h1 v1.3 h-3.8 v-1.3 h1 v-1.9 h-0.8 z" fill="#fff"/>
<rect x="849.75" y="298.45" width="10.8" height="8.7" rx="1.3" fill="#f6da3c" stroke="#8a7424" stroke-width="0.9"/>
<path d="M851.20 306.40 q0 -2.4 1.9 -2.4 q1.9 0 1.9 2.4 z" fill="#3a2c10"/>
<path d="M852.60 304.40 h1 l-0.5 1.6 z" fill="#fff"/>
<ellipse cx="853.10" cy="302.30" rx="1.1" ry="1.4" fill="#e0a050"/>
<path d="M851.80 301.80 q0 -1.9 1.3 -1.9 q1.4 0 1.4 1.9 q-1.3 -0.8 -2.7 0 z" fill="#2a2a2a"/>
<rect x="856.30" y="300.00" width="2.6" height="5.4" fill="#c6a52c"/>
<text x="863.90" y="305.90" font-size="11.5" fill="#666" stroke="#666" stroke-width="0.3" textLength="16.50" lengthAdjust="spacingAndGlyphs">998</text>
<text x="509.80" y="335.80" font-size="11.5" fill="#333" stroke="#333" stroke-width="0.45" textLength="41.25" lengthAdjust="spacingAndGlyphs">24975,00</text>
<text x="593.80" y="335.80" font-size="11.5" fill="#333" stroke="#333" stroke-width="0.45" textLength="41.25" lengthAdjust="spacingAndGlyphs">25000,00</text>
<text x="678.50" y="335.80" font-size="11.5" fill="#333" stroke="#333" stroke-width="0.45" textLength="30.25" lengthAdjust="spacingAndGlyphs">501,00</text>
<text x="742.80" y="335.80" font-size="11.5" fill="#3a7ebf" stroke="#3a7ebf" stroke-width="0.25" textLength="22.54" lengthAdjust="spacingAndGlyphs">-0,10</text>
<circle cx="823.5" cy="331.3" r="5.6" fill="#2e6b92"/>
<circle cx="823.5" cy="328.7" r="1" fill="#fff"/>
<path d="M821.9 330.4 h2.6 v3.2 h1 v1.3 h-3.8 v-1.3 h1 v-1.9 h-0.8 z" fill="#fff"/>
<rect x="849.75" y="328.35" width="10.8" height="8.7" rx="1.3" fill="#f6da3c" stroke="#8a7424" stroke-width="0.9"/>
<path d="M851.20 336.30 q0 -2.4 1.9 -2.4 q1.9 0 1.9 2.4 z" fill="#3a2c10"/>
<path d="M852.60 334.30 h1 l-0.5 1.6 z" fill="#fff"/>
<ellipse cx="853.10" cy="332.20" rx="1.1" ry="1.4" fill="#e0a050"/>
<path d="M851.80 331.70 q0 -1.9 1.3 -1.9 q1.4 0 1.4 1.9 q-1.3 -0.8 -2.7 0 z" fill="#2a2a2a"/>
<rect x="856.30" y="329.90" width="2.6" height="5.4" fill="#c6a52c"/>
<text x="863.90" y="335.80" font-size="11.5" fill="#666" stroke="#666" stroke-width="0.3" textLength="16.50" lengthAdjust="spacingAndGlyphs">998</text>
<text x="509.80" y="366.90" font-size="11.5" fill="#333" stroke="#333" stroke-width="0.45" textLength="41.25" lengthAdjust="spacingAndGlyphs">29970,00</text>
<text x="593.80" y="366.90" font-size="11.5" fill="#333" stroke="#333" stroke-width="0.45" textLength="41.25" lengthAdjust="spacingAndGlyphs">30000,00</text>
<text x="678.50" y="366.90" font-size="11.5" fill="#333" stroke="#333" stroke-width="0.45" textLength="30.25" lengthAdjust="spacingAndGlyphs">601,00</text>
<text x="742.80" y="366.90" font-size="11.5" fill="#3a7ebf" stroke="#3a7ebf" stroke-width="0.25" textLength="22.54" lengthAdjust="spacingAndGlyphs">-0,10</text>
<circle cx="823.5" cy="362.4" r="5.6" fill="#2e6b92"/>
<circle cx="823.5" cy="359.8" r="1" fill="#fff"/>
<path d="M821.9 361.5 h2.6 v3.2 h1 v1.3 h-3.8 v-1.3 h1 v-1.9 h-0.8 z" fill="#fff"/>
<rect x="849.75" y="359.45" width="10.8" height="8.7" rx="1.3" fill="#f6da3c" stroke="#8a7424" stroke-width="0.9"/>
<path d="M851.20 367.40 q0 -2.4 1.9 -2.4 q1.9 0 1.9 2.4 z" fill="#3a2c10"/>
<path d="M852.60 365.40 h1 l-0.5 1.6 z" fill="#fff"/>
<ellipse cx="853.10" cy="363.30" rx="1.1" ry="1.4" fill="#e0a050"/>
<path d="M851.80 362.80 q0 -1.9 1.3 -1.9 q1.4 0 1.4 1.9 q-1.3 -0.8 -2.7 0 z" fill="#2a2a2a"/>
<rect x="856.30" y="361.00" width="2.6" height="5.4" fill="#c6a52c"/>
<text x="863.90" y="366.90" font-size="11.5" fill="#666" stroke="#666" stroke-width="0.3" textLength="16.50" lengthAdjust="spacingAndGlyphs">998</text>
<text x="509.80" y="397.90" font-size="11.5" fill="#333" stroke="#333" stroke-width="0.45" textLength="41.25" lengthAdjust="spacingAndGlyphs">29970,00</text>
<text x="593.80" y="397.90" font-size="11.5" fill="#333" stroke="#333" stroke-width="0.45" textLength="41.25" lengthAdjust="spacingAndGlyphs">30000,00</text>
<text x="678.50" y="397.90" font-size="11.5" fill="#333" stroke="#333" stroke-width="0.45" textLength="30.25" lengthAdjust="spacingAndGlyphs">601,00</text>
<text x="742.80" y="397.90" font-size="11.5" fill="#3a7ebf" stroke="#3a7ebf" stroke-width="0.25" textLength="22.54" lengthAdjust="spacingAndGlyphs">-0,10</text>
<circle cx="823.5" cy="393.4" r="5.6" fill="#2e6b92"/>
<circle cx="823.5" cy="390.8" r="1" fill="#fff"/>
<path d="M821.9 392.5 h2.6 v3.2 h1 v1.3 h-3.8 v-1.3 h1 v-1.9 h-0.8 z" fill="#fff"/>
<rect x="849.75" y="390.45" width="10.8" height="8.7" rx="1.3" fill="#f6da3c" stroke="#8a7424" stroke-width="0.9"/>
<path d="M851.20 398.40 q0 -2.4 1.9 -2.4 q1.9 0 1.9 2.4 z" fill="#3a2c10"/>
<path d="M852.60 396.40 h1 l-0.5 1.6 z" fill="#fff"/>
<ellipse cx="853.10" cy="394.30" rx="1.1" ry="1.4" fill="#e0a050"/>
<path d="M851.80 393.80 q0 -1.9 1.3 -1.9 q1.4 0 1.4 1.9 q-1.3 -0.8 -2.7 0 z" fill="#2a2a2a"/>
<rect x="856.30" y="392.00" width="2.6" height="5.4" fill="#c6a52c"/>
<text x="863.90" y="397.90" font-size="11.5" fill="#666" stroke="#666" stroke-width="0.3" textLength="16.50" lengthAdjust="spacingAndGlyphs">998</text>
<text x="509.80" y="428.90" font-size="11.5" fill="#333" stroke="#333" stroke-width="0.45" textLength="41.25" lengthAdjust="spacingAndGlyphs">34965,00</text>
<text x="593.80" y="428.90" font-size="11.5" fill="#333" stroke="#333" stroke-width="0.45" textLength="41.25" lengthAdjust="spacingAndGlyphs">35000,00</text>
<text x="678.50" y="428.90" font-size="11.5" fill="#333" stroke="#333" stroke-width="0.45" textLength="30.25" lengthAdjust="spacingAndGlyphs">701,00</text>
<text x="742.80" y="428.90" font-size="11.5" fill="#3a7ebf" stroke="#3a7ebf" stroke-width="0.25" textLength="22.54" lengthAdjust="spacingAndGlyphs">-0,10</text>
<circle cx="823.5" cy="424.4" r="5.6" fill="#2e6b92"/>
<circle cx="823.5" cy="421.8" r="1" fill="#fff"/>
<path d="M821.9 423.5 h2.6 v3.2 h1 v1.3 h-3.8 v-1.3 h1 v-1.9 h-0.8 z" fill="#fff"/>
<rect x="849.75" y="421.45" width="10.8" height="8.7" rx="1.3" fill="#f6da3c" stroke="#8a7424" stroke-width="0.9"/>
<path d="M851.20 429.40 q0 -2.4 1.9 -2.4 q1.9 0 1.9 2.4 z" fill="#3a2c10"/>
<path d="M852.60 427.40 h1 l-0.5 1.6 z" fill="#fff"/>
<ellipse cx="853.10" cy="425.30" rx="1.1" ry="1.4" fill="#e0a050"/>
<path d="M851.80 424.80 q0 -1.9 1.3 -1.9 q1.4 0 1.4 1.9 q-1.3 -0.8 -2.7 0 z" fill="#2a2a2a"/>
<rect x="856.30" y="423.00" width="2.6" height="5.4" fill="#c6a52c"/>
<text x="863.90" y="428.90" font-size="11.5" fill="#666" stroke="#666" stroke-width="0.3" textLength="16.50" lengthAdjust="spacingAndGlyphs">998</text>
<text x="509.80" y="459.90" font-size="11.5" fill="#333" stroke="#333" stroke-width="0.45" textLength="41.25" lengthAdjust="spacingAndGlyphs">34965,00</text>
<text x="593.80" y="459.90" font-size="11.5" fill="#333" stroke="#333" stroke-width="0.45" textLength="41.25" lengthAdjust="spacingAndGlyphs">35000,00</text>
<text x="678.50" y="459.90" font-size="11.5" fill="#333" stroke="#333" stroke-width="0.45" textLength="30.25" lengthAdjust="spacingAndGlyphs">701,00</text>
<text x="742.80" y="459.90" font-size="11.5" fill="#3a7ebf" stroke="#3a7ebf" stroke-width="0.25" textLength="22.54" lengthAdjust="spacingAndGlyphs">-0,10</text>
<circle cx="823.5" cy="455.4" r="5.6" fill="#2e6b92"/>
<circle cx="823.5" cy="452.8" r="1" fill="#fff"/>
<path d="M821.9 454.5 h2.6 v3.2 h1 v1.3 h-3.8 v-1.3 h1 v-1.9 h-0.8 z" fill="#fff"/>
<rect x="849.75" y="452.45" width="10.8" height="8.7" rx="1.3" fill="#f6da3c" stroke="#8a7424" stroke-width="0.9"/>
<path d="M851.20 460.40 q0 -2.4 1.9 -2.4 q1.9 0 1.9 2.4 z" fill="#3a2c10"/>
<path d="M852.60 458.40 h1 l-0.5 1.6 z" fill="#fff"/>
<ellipse cx="853.10" cy="456.30" rx="1.1" ry="1.4" fill="#e0a050"/>
<path d="M851.80 455.80 q0 -1.9 1.3 -1.9 q1.4 0 1.4 1.9 q-1.3 -0.8 -2.7 0 z" fill="#2a2a2a"/>
<rect x="856.30" y="454.00" width="2.6" height="5.4" fill="#c6a52c"/>
<text x="863.90" y="459.90" font-size="11.5" fill="#666" stroke="#666" stroke-width="0.3" textLength="16.50" lengthAdjust="spacingAndGlyphs">998</text>
<text x="509.80" y="489.90" font-size="11.5" fill="#333" stroke="#333" stroke-width="0.45" textLength="41.25" lengthAdjust="spacingAndGlyphs">34965,00</text>
<text x="593.80" y="489.90" font-size="11.5" fill="#333" stroke="#333" stroke-width="0.45" textLength="41.25" lengthAdjust="spacingAndGlyphs">35000,00</text>
<text x="678.50" y="489.90" font-size="11.5" fill="#333" stroke="#333" stroke-width="0.45" textLength="30.25" lengthAdjust="spacingAndGlyphs">701,00</text>
<text x="742.80" y="489.90" font-size="11.5" fill="#3a7ebf" stroke="#3a7ebf" stroke-width="0.25" textLength="22.54" lengthAdjust="spacingAndGlyphs">-0,10</text>
<circle cx="823.5" cy="485.4" r="5.6" fill="#2e6b92"/>
<circle cx="823.5" cy="482.8" r="1" fill="#fff"/>
<path d="M821.9 484.5 h2.6 v3.2 h1 v1.3 h-3.8 v-1.3 h1 v-1.9 h-0.8 z" fill="#fff"/>
<rect x="849.75" y="482.45" width="10.8" height="8.7" rx="1.3" fill="#f6da3c" stroke="#8a7424" stroke-width="0.9"/>
<path d="M851.20 490.40 q0 -2.4 1.9 -2.4 q1.9 0 1.9 2.4 z" fill="#3a2c10"/>
<path d="M852.60 488.40 h1 l-0.5 1.6 z" fill="#fff"/>
<ellipse cx="853.10" cy="486.30" rx="1.1" ry="1.4" fill="#e0a050"/>
<path d="M851.80 485.80 q0 -1.9 1.3 -1.9 q1.4 0 1.4 1.9 q-1.3 -0.8 -2.7 0 z" fill="#2a2a2a"/>
<rect x="856.30" y="484.00" width="2.6" height="5.4" fill="#c6a52c"/>
<text x="863.90" y="489.90" font-size="11.5" fill="#666" stroke="#666" stroke-width="0.3" textLength="16.50" lengthAdjust="spacingAndGlyphs">998</text>
<text x="509.80" y="520.90" font-size="11.5" fill="#333" stroke="#333" stroke-width="0.45" textLength="41.25" lengthAdjust="spacingAndGlyphs">39960,00</text>
<text x="593.80" y="520.90" font-size="11.5" fill="#333" stroke="#333" stroke-width="0.45" textLength="41.25" lengthAdjust="spacingAndGlyphs">40000,00</text>
<text x="678.50" y="520.90" font-size="11.5" fill="#333" stroke="#333" stroke-width="0.45" textLength="30.25" lengthAdjust="spacingAndGlyphs">801,00</text>
<text x="742.80" y="520.90" font-size="11.5" fill="#3a7ebf" stroke="#3a7ebf" stroke-width="0.25" textLength="22.54" lengthAdjust="spacingAndGlyphs">-0,10</text>
<circle cx="823.5" cy="516.4" r="5.6" fill="#2e6b92"/>
<circle cx="823.5" cy="513.8" r="1" fill="#fff"/>
<path d="M821.9 515.5 h2.6 v3.2 h1 v1.3 h-3.8 v-1.3 h1 v-1.9 h-0.8 z" fill="#fff"/>
<rect x="849.75" y="513.45" width="10.8" height="8.7" rx="1.3" fill="#f6da3c" stroke="#8a7424" stroke-width="0.9"/>
<path d="M851.20 521.40 q0 -2.4 1.9 -2.4 q1.9 0 1.9 2.4 z" fill="#3a2c10"/>
<path d="M852.60 519.40 h1 l-0.5 1.6 z" fill="#fff"/>
<ellipse cx="853.10" cy="517.30" rx="1.1" ry="1.4" fill="#e0a050"/>
<path d="M851.80 516.80 q0 -1.9 1.3 -1.9 q1.4 0 1.4 1.9 q-1.3 -0.8 -2.7 0 z" fill="#2a2a2a"/>
<rect x="856.30" y="515.00" width="2.6" height="5.4" fill="#c6a52c"/>
<text x="863.90" y="520.90" font-size="11.5" fill="#666" stroke="#666" stroke-width="0.3" textLength="16.50" lengthAdjust="spacingAndGlyphs">998</text>
<text x="509.80" y="551.70" font-size="11.5" fill="#333" stroke="#333" stroke-width="0.45" textLength="41.25" lengthAdjust="spacingAndGlyphs">39960,00</text>
<text x="593.80" y="551.70" font-size="11.5" fill="#333" stroke="#333" stroke-width="0.45" textLength="41.25" lengthAdjust="spacingAndGlyphs">40000,00</text>
<text x="678.50" y="551.70" font-size="11.5" fill="#333" stroke="#333" stroke-width="0.45" textLength="30.25" lengthAdjust="spacingAndGlyphs">801,00</text>
<text x="742.80" y="551.70" font-size="11.5" fill="#3a7ebf" stroke="#3a7ebf" stroke-width="0.25" textLength="22.54" lengthAdjust="spacingAndGlyphs">-0,10</text>
<circle cx="823.5" cy="547.2" r="5.6" fill="#2e6b92"/>
<circle cx="823.5" cy="544.6" r="1" fill="#fff"/>
<path d="M821.9 546.3 h2.6 v3.2 h1 v1.3 h-3.8 v-1.3 h1 v-1.9 h-0.8 z" fill="#fff"/>
<rect x="849.75" y="544.25" width="10.8" height="8.7" rx="1.3" fill="#f6da3c" stroke="#8a7424" stroke-width="0.9"/>
<path d="M851.20 552.20 q0 -2.4 1.9 -2.4 q1.9 0 1.9 2.4 z" fill="#3a2c10"/>
<path d="M852.60 550.20 h1 l-0.5 1.6 z" fill="#fff"/>
<ellipse cx="853.10" cy="548.10" rx="1.1" ry="1.4" fill="#e0a050"/>
<path d="M851.80 547.60 q0 -1.9 1.3 -1.9 q1.4 0 1.4 1.9 q-1.3 -0.8 -2.7 0 z" fill="#2a2a2a"/>
<rect x="856.30" y="545.80" width="2.6" height="5.4" fill="#c6a52c"/>
<text x="863.90" y="551.70" font-size="11.5" fill="#666" stroke="#666" stroke-width="0.3" textLength="16.50" lengthAdjust="spacingAndGlyphs">998</text>
<rect x="733.1" y="571.5" width="202.10000000000002" height="26" rx="3" fill="#fafafa" stroke="#dcdcdc" stroke-width="1"/>
<path d="M763.3 572 H736.1 a2.5 2.5 0 0 0 -2.5 2.5 V594.5 a2.5 2.5 0 0 0 2.5 2.5 H763.3 z" fill="#ffffff"/>
<rect x="762.80" y="571" width="1" height="27" fill="#dcdcdc"/>
<rect x="789.10" y="571" width="1" height="27" fill="#dcdcdc"/>
<rect x="815.30" y="571" width="1" height="27" fill="#dcdcdc"/>
<rect x="841.10" y="571" width="1" height="27" fill="#dcdcdc"/>
<rect x="871.80" y="571" width="1" height="27" fill="#dcdcdc"/>
<rect x="904.00" y="571" width="1" height="27" fill="#dcdcdc"/>
<rect x="763.30" y="571" width="26.30" height="27" fill="#337ab7"/>
<text x="742.45" y="588.20" font-size="9.5" fill="#555" stroke="#555" stroke-width="0.1" textLength="11.60" lengthAdjust="spacingAndGlyphs">&lt;&lt;</text>
<text x="773.58" y="588.50" font-size="12" fill="#fff" stroke="#fff" stroke-width="0.2" textLength="5.74" lengthAdjust="spacingAndGlyphs">1</text>
<text x="799.83" y="588.50" font-size="12" fill="#555" stroke="#555" stroke-width="0.2" textLength="5.74" lengthAdjust="spacingAndGlyphs">2</text>
<text x="825.83" y="588.50" font-size="12" fill="#555" stroke="#555" stroke-width="0.2" textLength="5.74" lengthAdjust="spacingAndGlyphs">3</text>
<text x="851.79" y="588.50" font-size="12" fill="#555" stroke="#555" stroke-width="0.2" textLength="10.32" lengthAdjust="spacingAndGlyphs">…</text>
<text x="882.66" y="588.50" font-size="12" fill="#555" stroke="#555" stroke-width="0.2" textLength="11.48" lengthAdjust="spacingAndGlyphs">74</text>
<text x="914.60" y="588.20" font-size="9.5" fill="#555" stroke="#555" stroke-width="0.1" textLength="11.60" lengthAdjust="spacingAndGlyphs">&gt;&gt;</text>
<text x="501.40" y="588.20" font-size="11.5" fill="#666" stroke="#666" stroke-width="0.4" textLength="121.30" lengthAdjust="spacingAndGlyphs">показано с 1 до 10 из 737</text>
<path d="M55.30 37.80 C54.70 38.00 53.03 39.08 51.70 39.00 C50.37 38.92 48.35 38.38 47.30 37.30 C46.25 36.22 45.58 33.97 45.40 32.50 C45.22 31.03 45.68 29.75 46.20 28.50 C46.72 27.25 47.43 25.95 48.50 25.00 C49.57 24.05 51.27 23.13 52.60 22.80 C53.93 22.47 55.38 22.55 56.50 23.00 C57.62 23.45 58.70 24.53 59.30 25.50 C59.90 26.47 60.05 27.80 60.10 28.80 C60.15 29.80 59.82 30.82 59.60 31.50 C59.38 32.18 58.93 32.67 58.80 32.90" fill="none" stroke="#fff" stroke-width="2.3" stroke-linecap="round" stroke-linejoin="round"/>
<path d="M58.80 21.40 C58.97 21.10 59.32 20.07 59.80 19.60 C60.28 19.13 61.05 18.67 61.70 18.60 C62.35 18.53 62.88 18.81 63.70 19.20 C64.52 19.59 65.63 20.37 66.60 20.95 C67.57 21.53 68.80 22.04 69.50 22.70 C70.20 23.36 70.67 24.18 70.80 24.90 C70.93 25.62 70.92 25.93 70.30 27.00 C69.68 28.07 68.17 29.90 67.10 31.35 C66.03 32.80 64.73 34.76 63.90 35.70 C63.07 36.64 62.70 36.88 62.10 37.00 C61.50 37.12 61.06 36.80 60.30 36.40 C59.54 36.00 58.47 35.20 57.55 34.60 C56.63 34.00 55.44 33.42 54.80 32.80 C54.16 32.18 53.80 31.55 53.70 30.90 C53.60 30.25 53.87 29.53 54.20 28.90 C54.53 28.27 55.45 27.40 55.70 27.10" fill="none" stroke="#fff" stroke-width="2.3" stroke-linecap="round" stroke-linejoin="round"/>
<path d="M228.9 22.6 L235.2 26.2 V27.4 H222.6 V26.2 Z" fill="#fff"/>
<rect x="223.4" y="27.6" width="1.4" height="4.4" fill="#fff"/>
<rect x="225.8" y="27.6" width="1.4" height="4.4" fill="#fff"/>
<rect x="228.2" y="27.6" width="1.4" height="4.4" fill="#fff"/>
<rect x="230.6" y="27.6" width="1.4" height="4.4" fill="#fff"/>
<rect x="233.0" y="27.6" width="1.4" height="4.4" fill="#fff"/>
<rect x="222.6" y="32" width="12.6" height="1.9" fill="#fff"/>
<rect x="284.4" y="24.4" width="12.4" height="7.4" fill="#fff"/>
<circle cx="289" cy="28.1" r="2.55" fill="none" stroke="#2a6d9c" stroke-width="1.3"/>
<circle cx="292.2" cy="28.1" r="2.55" fill="none" stroke="#2a6d9c" stroke-width="1.3"/>
<rect x="363.2" y="23.8" width="11" height="8.5" rx="0.8" fill="none" stroke="#fff" stroke-width="1.2"/>
<rect x="363.2" y="26.2" width="11" height="1.9" fill="#fff"/>
<rect x="364.8" y="30.1" width="2.6" height="0.9" fill="#fff"/>
<path d="M430.2 25.3 h4.6 q2.4 0 2.4 2.0 q0 1.3 -1.2 1.7 q1.7 0.4 1.7 2.2 q0 2.2 -2.6 2.2 h-4.9 v-1.3 h0.9 v-5.5 h-0.9 z M433.1 26.6 v2.1 h1.5 q1.1 0 1.1 -1.05 q0 -1.05 -1.1 -1.05 z M433.1 29.9 v2.2 h1.8 q1.2 0 1.2 -1.1 q0 -1.1 -1.2 -1.1 z" fill="#fff" fill-rule="evenodd"/>
<rect x="432.6" y="23.2" width="0.9" height="2.2" fill="#fff"/>
<rect x="432.6" y="33.1" width="0.9" height="1.6" fill="#fff"/>
<rect x="434.4" y="23.2" width="0.9" height="2.2" fill="#fff"/>
<rect x="434.4" y="33.1" width="0.9" height="1.6" fill="#fff"/>
<circle cx="501.8" cy="28.5" r="4.5" fill="#fff"/>
<path d="M499.6 25.6 q1.6 -0.6 3.4 0 l-0.8 1.6 l-0.9 1.6 l-0.6 -1.2 z" fill="#3c8dbc"/>
<path d="M503.6 30.2 l1.2 0.4 l-0.8 1.4 l-0.9 -0.4 z" fill="#3c8dbc"/>
<path d="M723.9 28.0 h6.2 l-3.1 3.0 z" fill="#fff"/>
<defs><clipPath id="av"><circle cx="806" cy="27.8" r="10"/></clipPath></defs>
<g clip-path="url(#av)"><rect x="795" y="17" width="22" height="22" fill="#cfcfcf"/><rect x="795" y="32.2" width="22" height="5.4" fill="#1a1a1a"/><rect x="795" y="30.5" width="22" height="1.2" fill="#e8e8e8"/>
<text x="797.00" y="27.90" font-size="10" font-weight="bold" fill="#000" stroke="#000" stroke-width="0.6" textLength="19.50" lengthAdjust="spacingAndGlyphs">Agu</text>
</g>
<rect x="30" y="96.5" width="12" height="3.3" fill="#fff"/><rect x="30" y="99.8" width="12" height="3.2" fill="#1c3fd8"/><rect x="30" y="103" width="12" height="3.2" fill="#e0401a"/>
<rect x="119.1" y="96.3" width="12.7" height="10.2" fill="#f0c6cc"/>
<rect x="119.1" y="96.30" width="12.7" height="1.1" fill="#e37d8f"/>
<rect x="119.1" y="98.35" width="12.7" height="1.1" fill="#e37d8f"/>
<rect x="119.1" y="100.40" width="12.7" height="1.1" fill="#e37d8f"/>
<rect x="119.1" y="102.45" width="12.7" height="1.1" fill="#e37d8f"/>
<rect x="119.1" y="104.50" width="12.7" height="1.1" fill="#e37d8f"/>
<rect x="119.1" y="96.3" width="7.2" height="5.5" fill="#2a4e9a"/>
<rect x="119.1" y="105.2" width="12.7" height="1.3" fill="#f8c0a0"/>
<rect x="207.1" y="96.8" width="12.7" height="9.2" fill="#86b3f0"/>
<circle cx="213.5" cy="101.4" r="3.1" fill="none" stroke="#c4dcf8" stroke-width="1"/>
<rect x="295.1" y="96.7" width="12.7" height="4.6" fill="#4f89d8"/><rect x="295.1" y="100.2" width="12.7" height="1.2" fill="#2266dd"/><rect x="295.1" y="101.3" width="12.7" height="5.1" fill="#f5e010"/>
<path d="M153.50 173.00 L153.42 175.15 L153.19 176.88 L152.81 178.46 L152.27 179.96 L151.58 181.39 L150.74 182.75 L149.76 184.07 L148.62 185.32 L147.34 186.53 L145.91 187.69 L144.34 188.80 L142.62 189.86 L140.77 190.87 L138.79 191.83 L136.67 192.73 L134.41 193.58 L132.03 194.38 L129.53 195.13 L126.89 195.81 L124.13 196.45 L121.25 197.02 L118.25 197.54 L115.12 197.99 L111.86 198.39 L108.46 198.73 L104.91 199.01 L101.19 199.22 L97.24 199.38 L92.95 199.47 L87.60 199.50 L82.25 199.47 L77.96 199.38 L74.01 199.22 L70.29 199.01 L66.74 198.73 L63.34 198.39 L60.08 197.99 L56.95 197.54 L53.95 197.02 L51.07 196.45 L48.31 195.81 L45.67 195.13 L43.17 194.38 L40.79 193.58 L38.53 192.73 L36.41 191.83 L34.43 190.87 L32.58 189.86 L30.86 188.80 L29.29 187.69 L27.86 186.53 L26.58 185.32 L25.44 184.07 L24.46 182.75 L23.62 181.39 L22.93 179.96 L22.39 178.46 L22.01 176.88 L21.78 175.15 L21.70 173.00 L21.78 170.85 L22.01 169.12 L22.39 167.54 L22.93 166.04 L23.62 164.61 L24.46 163.25 L25.44 161.93 L26.58 160.68 L27.86 159.47 L29.29 158.31 L30.86 157.20 L32.58 156.14 L34.43 155.13 L36.41 154.17 L38.53 153.27 L40.79 152.42 L43.17 151.62 L45.67 150.87 L48.31 150.19 L51.07 149.55 L53.95 148.98 L56.95 148.46 L60.08 148.01 L63.34 147.61 L66.74 147.27 L70.29 146.99 L74.01 146.78 L77.96 146.62 L82.25 146.53 L87.60 146.50 L92.95 146.53 L97.24 146.62 L101.19 146.78 L104.91 146.99 L108.46 147.27 L111.86 147.61 L115.12 148.01 L118.25 148.46 L121.25 148.98 L124.13 149.55 L126.89 150.19 L129.53 150.87 L132.03 151.62 L134.41 152.42 L136.67 153.27 L138.79 154.17 L140.77 155.13 L142.62 156.14 L144.34 157.20 L145.91 158.31 L147.34 159.47 L148.62 160.68 L149.76 161.93 L150.74 163.25 L151.58 164.61 L152.27 166.04 L152.81 167.54 L153.19 169.12 L153.42 170.85 Z" fill="none" stroke="#f4000c" stroke-width="3.1" stroke-linejoin="round"/>
</svg></body></html>
